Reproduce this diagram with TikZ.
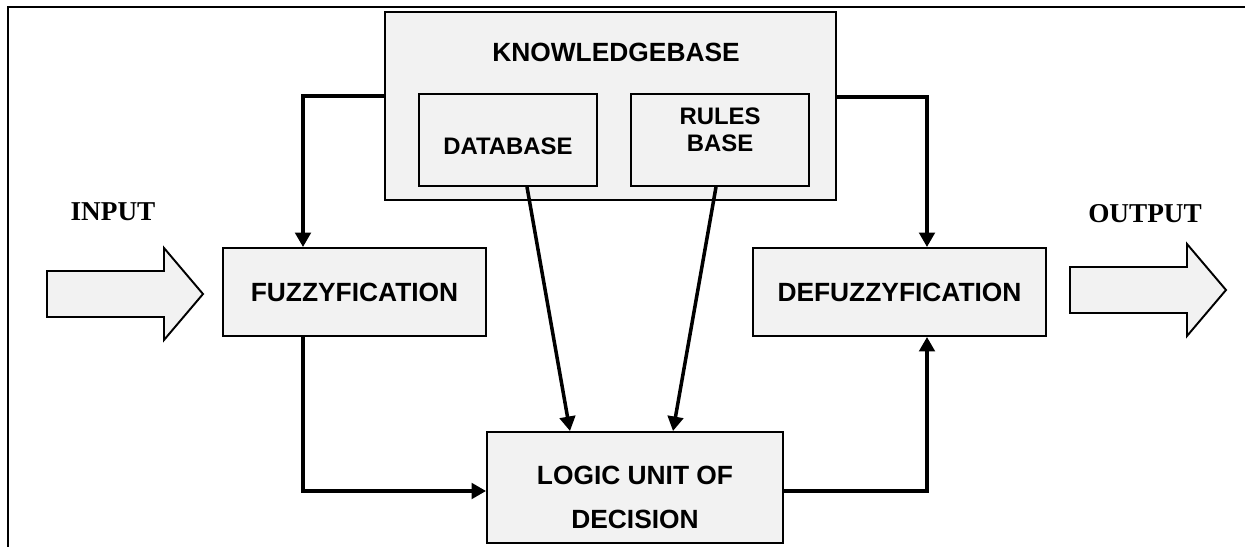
\documentclass[tikz,border=0pt]{standalone}
\usepackage{fontspec}
\setmainfont{Liberation Serif}
\setsansfont{Liberation Sans}
\usetikzlibrary{arrows.meta,calc}
\definecolor{BoxGray}{RGB}{242,242,242}
% shift a text down inside its node, keeping the node's own size
\newcommand{\lowertext}[2]{\raisebox{-#1}[\height][\depth]{#2}}

\begin{document}
\begin{tikzpicture}[
  x=0.02cm, y=-0.02cm,
  font=\sffamily\bfseries\fontsize{15}{18}\selectfont,
  block/.style={draw, line width=1.1pt, fill=BoxGray, inner sep=0pt,
    align=center, minimum height=1.76cm},
  part/.style={block, minimum width=3.56cm, minimum height=1.84cm,
    font=\sffamily\bfseries\fontsize{13.6}{15.4}\selectfont},
  arr/.style={-{Triangle[length=2.9mm, width=3.1mm]}, line width=2pt},
  fatarrow/.style={draw, line width=1.1pt, fill=BoxGray},
  io/.style={inner sep=0pt, font=\rmfamily\bfseries\fontsize{15.5}{18}\selectfont},
  frame/.style={line width=1.3pt},
]
\useasboundingbox (0,0) rectangle (1245,547);
\draw[frame] (8,547) -- (8,7) -- (1245,7);

% knowledge base with its two parts
\node[block, minimum width=9.02cm, minimum height=3.76cm] (kb) at (610.5,106) {};
\node[inner sep=0pt] (kbtitle) at (616,52) {KNOWLEDGEBASE};
\node[part] (db) at (508,140) {\lowertext{3.4pt}{DATABASE}};
\node[part] (rb) at (720,140)
  {\lowertext{-4.3pt}{\begin{tabular}{@{}c@{}}RULES\\ BASE\end{tabular}}};

\node[block, minimum width=5.26cm] (fuzzy)  at (354.5,292) {FUZZYFICATION};
\node[block, minimum width=5.86cm] (defuzz) at (899.5,292) {DEFUZZYFICATION};
\node[block, minimum width=5.92cm, minimum height=2.22cm,
      font=\sffamily\bfseries\fontsize{15}{25.6}\selectfont] (logic) at (635,487.5)
  {\lowertext{5.7pt}{\begin{tabular}{@{}c@{}}LOGIC UNIT OF\\ DECISION\end{tabular}}};

\node[io] (inlabel)  at (113,212)  {INPUT};
\node[io] (outlabel) at (1145,214) {OUTPUT};

% fat input / output arrows
\coordinate (intip)  at (203,294);
\coordinate (outtip) at (1226,290);
\foreach \tip in {intip,outtip}
  \draw[fatarrow] (\tip) -- ++(-39,-46) -- ++(0,23) -- ++(-117,0)
    -- ++(0,46) -- ++(117,0) -- ++(0,23) -- cycle;

% connectors
\coordinate (lbend)  at (303,96);
\coordinate (rbend)  at (927,97);
\coordinate (lowbus) at (0,491);
\draw[arr] (kb.west|-lbend) -- (lbend) -- (lbend|-fuzzy.north);
\draw[arr] (kb.east|-rbend) -- (rbend) -- (rbend|-defuzz.north);
\draw[arr] ($(db.south)+(19,0)$) -- ($(logic.north)+(-65,0)$);
\draw[arr] ($(rb.south)+(-4,0)$) -- ($(logic.north)+(38,0)$);
\draw[arr] (lbend|-fuzzy.south) -- (lbend|-lowbus) -- (logic.west|-lowbus);
\draw[arr] (logic.east|-lowbus) -- (rbend|-lowbus) -- (rbend|-defuzz.south);
\end{tikzpicture}
\end{document}
